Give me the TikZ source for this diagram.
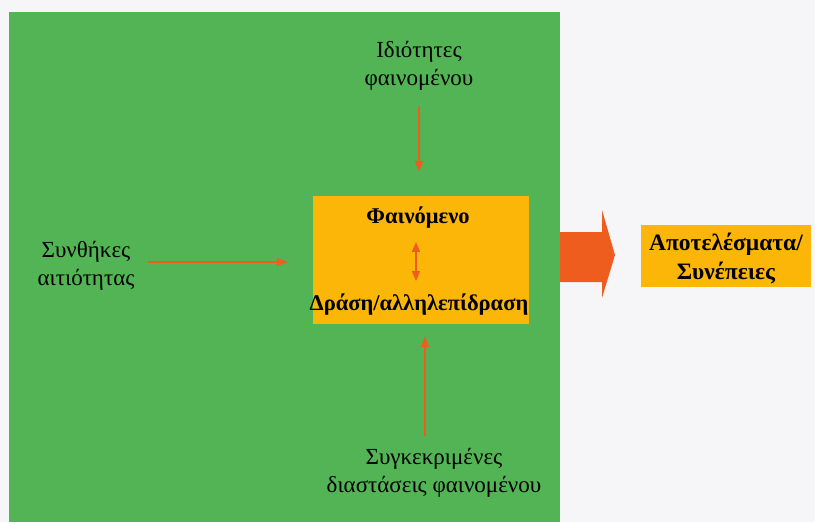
\documentclass[tikz,border=0pt]{standalone}
\usepackage{fontspec}
\setmainfont{Liberation Serif}
\usetikzlibrary{arrows.meta,calc}
\definecolor{bgwhite}{RGB}{246,246,248}
\definecolor{panelgreen}{RGB}{82,180,84}
\definecolor{boxorange}{RGB}{252,182,8}
\definecolor{arrowred}{RGB}{238,92,30}
\tikzset{
  lbl/.style={align=center, font=\fontsize{23}{28}\selectfont, inner sep=0pt},
  blbl/.style={align=center, font=\fontsize{22.5}{28}\selectfont\bfseries, inner sep=0pt},
  rlbl/.style={align=center, font=\fontsize{23.5}{29}\selectfont\bfseries, inner sep=0pt},
  conn/.style={draw=arrowred, line width=1.3pt, -{Triangle[length=11pt,width=8pt]}},
  dconn/.style={draw=arrowred, line width=1.3pt, {Triangle[length=10pt,width=8pt]}-{Triangle[length=10pt,width=8pt]}},
  orangebox/.style={fill=boxorange, inner sep=0pt}
}
\begin{document}
\begin{tikzpicture}[x=1pt,y=-1pt]
\useasboundingbox (0,0) rectangle (815,522);
\fill[bgwhite] (0,0) rectangle (815,522);
% green panel
\fill[panelgreen] (9,12) rectangle (560,522);
% central box
\node[orangebox, minimum width=216pt, minimum height=128pt] (phen) at (421,260) {};
\node[blbl] (fain) at (418,218) {Φαινόμενο};
\node[blbl] (drasi) at (419,305) {Δράση/αλληλεπίδραση};
\draw[dconn] ($(fain.south)+(-2,13)$) -- ($(drasi.north)+(-3,-13)$);
% top input
\node[lbl] (idiot) at (419,66) {Ιδιότητες\\φαινομένου};
\draw[conn] ($(idiot.south)+(0,16)$) -- ($(phen.north)+(-2,-24)$);
% left input
\node[lbl] (synth) at (86,266) {Συνθήκες\\αιτιότητας};
\draw[conn] ($(synth.east)+(13,-4)$) -- ($(phen.west)+(-25,2)$);
% bottom input
\node[lbl] (sygk) at (434,473) {Συγκεκριμένες\\διαστάσεις φαινομένου};
\draw[conn] ($(sygk.north)+(-9,-12)$) -- ($(phen.south)+(4,12)$);
% big arrow
\fill[arrowred] (560,232) -- (602,232) -- (602,210) -- (615,255) -- (602,298) -- (602,282) -- (560,282) -- cycle;
% result box
\node[orangebox, minimum width=170pt, minimum height=62pt] (res) at (726,256) {};
\node[rlbl] (restext) at (726,259) {Αποτελέσματα/\\Συνέπειες};
\end{tikzpicture}
\end{document}
